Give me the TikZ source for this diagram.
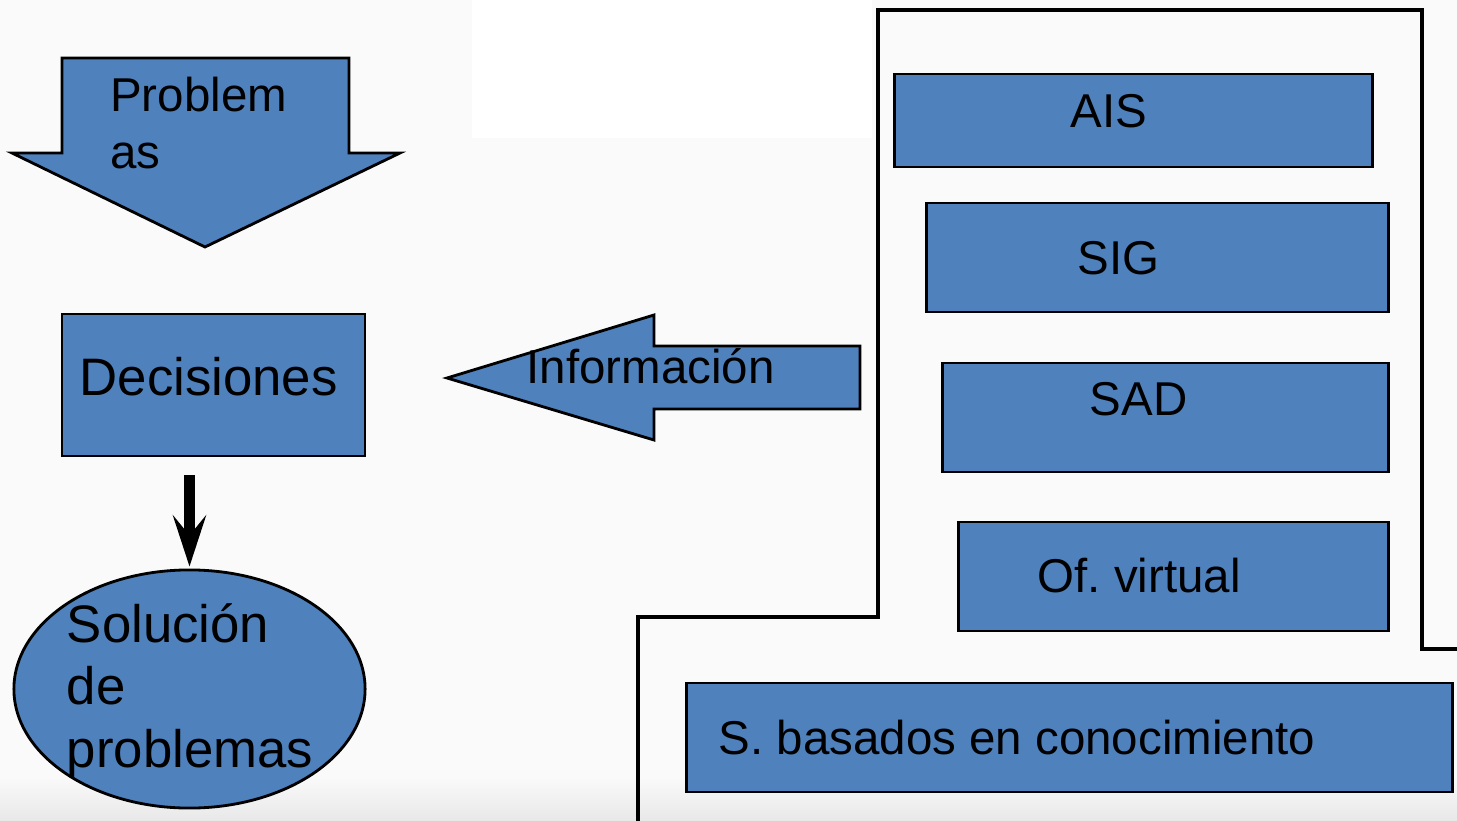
\documentclass[tikz,border=0pt]{standalone}
\usepackage{fontspec}
\setmainfont{Liberation Sans}
\usetikzlibrary{arrows.meta, positioning, shapes.geometric}
\usepackage{xcolor}
\definecolor{boxblue}{HTML}{4F81BD}
\definecolor{slidebg}{HTML}{FAFAFA}
\def\bigfont{\fontsize{15}{17.9}\selectfont}
\def\smallfont{\fontsize{13.5}{16.2}\selectfont}
\frenchspacing

\begin{document}
\begin{tikzpicture}[x=0.01cm, y=-0.01cm]
    \tikzstyle{shapefill}=[draw=black, fill=boxblue, line width=0.8pt]
    \tikzstyle{sysbox}=[rectangle, shapefill, inner sep=0pt]
    \tikzstyle{lbl}=[inner sep=0pt, anchor=base west, font=\smallfont]
    \tikzstyle{frame}=[draw=black, line width=0.9pt]
    \tikzstyle{thick arrow}=[line width=1mm, -{Stealth[length=5.1mm, width=3.3mm, inset=2mm]}]

    % slide background
    \fill[slidebg] (0,0) rectangle (1457,821);
    \fill[white] (472,0) rectangle (872,138);
    \shade[top color=slidebg, bottom color=black!9] (0,776) rectangle (1457,821);
    \useasboundingbox (0,0) rectangle (1457,821);

    % Draw the left column: problems, decisions, solution
    \draw[shapefill] (62,58) -- (349,58) -- (349,153) -- (400,153) -- (205,247) -- (12,153) -- (62,153) -- cycle;
    \node[lbl, anchor=center, align=left] (prob) at (198.7,122.8) {Problem\\as};

    \node[sysbox, minimum width=3.03cm, minimum height=1.42cm] (dec) at (213.5,385) {};
    \node[lbl, font=\bigfont] (dec-txt) at (79,395) {Decisiones};

    \node[ellipse, shapefill, minimum width=3.51cm, minimum height=2.38cm, inner sep=0pt] (sol) at (189.5,689) {};
    \node[lbl, anchor=center, align=left, font=\bigfont] (sol-txt) at (190,691) {Solución\\de\\problemas};

    \draw[thick arrow, shorten <=1.8mm, shorten >=0.2mm] (sol.north |- dec.south) -- (sol.north);

    % Draw the information arrow
    \draw[shapefill] (447,378) -- (654,315) -- (654,346) -- (860,346) -- (860,409) -- (654,409) -- (654,440) -- cycle;
    \node[lbl] (info) at (526,383) {Información};

    % Draw the frame around the systems
    \draw[frame] (638,821) -- (638,617) -- (878,617) -- (878,10) -- (1422,10) -- (1422,649) -- (1457,649);

    % Draw the system boxes
    \foreach \name/\cx/\cy/\w/\h in {ais/1133.5/120.5/4.77/0.93, sig/1157.5/257.5/4.61/1.09,
        sad/1165.5/417.5/4.45/1.09, ofv/1173.5/576.5/4.29/1.09, sbc/1069.5/737.5/7.65/1.09}
        \node[sysbox, minimum width=\w cm, minimum height=\h cm] (\name) at (\cx,\cy) {};

    % and their labels
    \foreach \name/\x/\y/\txt in {ais/1070/127/AIS, sig/1077/274/SIG, sad/1089/415/SAD,
        ofv/1037/592/Of. virtual, sbc/718/754/S. basados en conocimiento}
        \node[lbl] (\name-txt) at (\x,\y) {\txt};
\end{tikzpicture}
\end{document}
